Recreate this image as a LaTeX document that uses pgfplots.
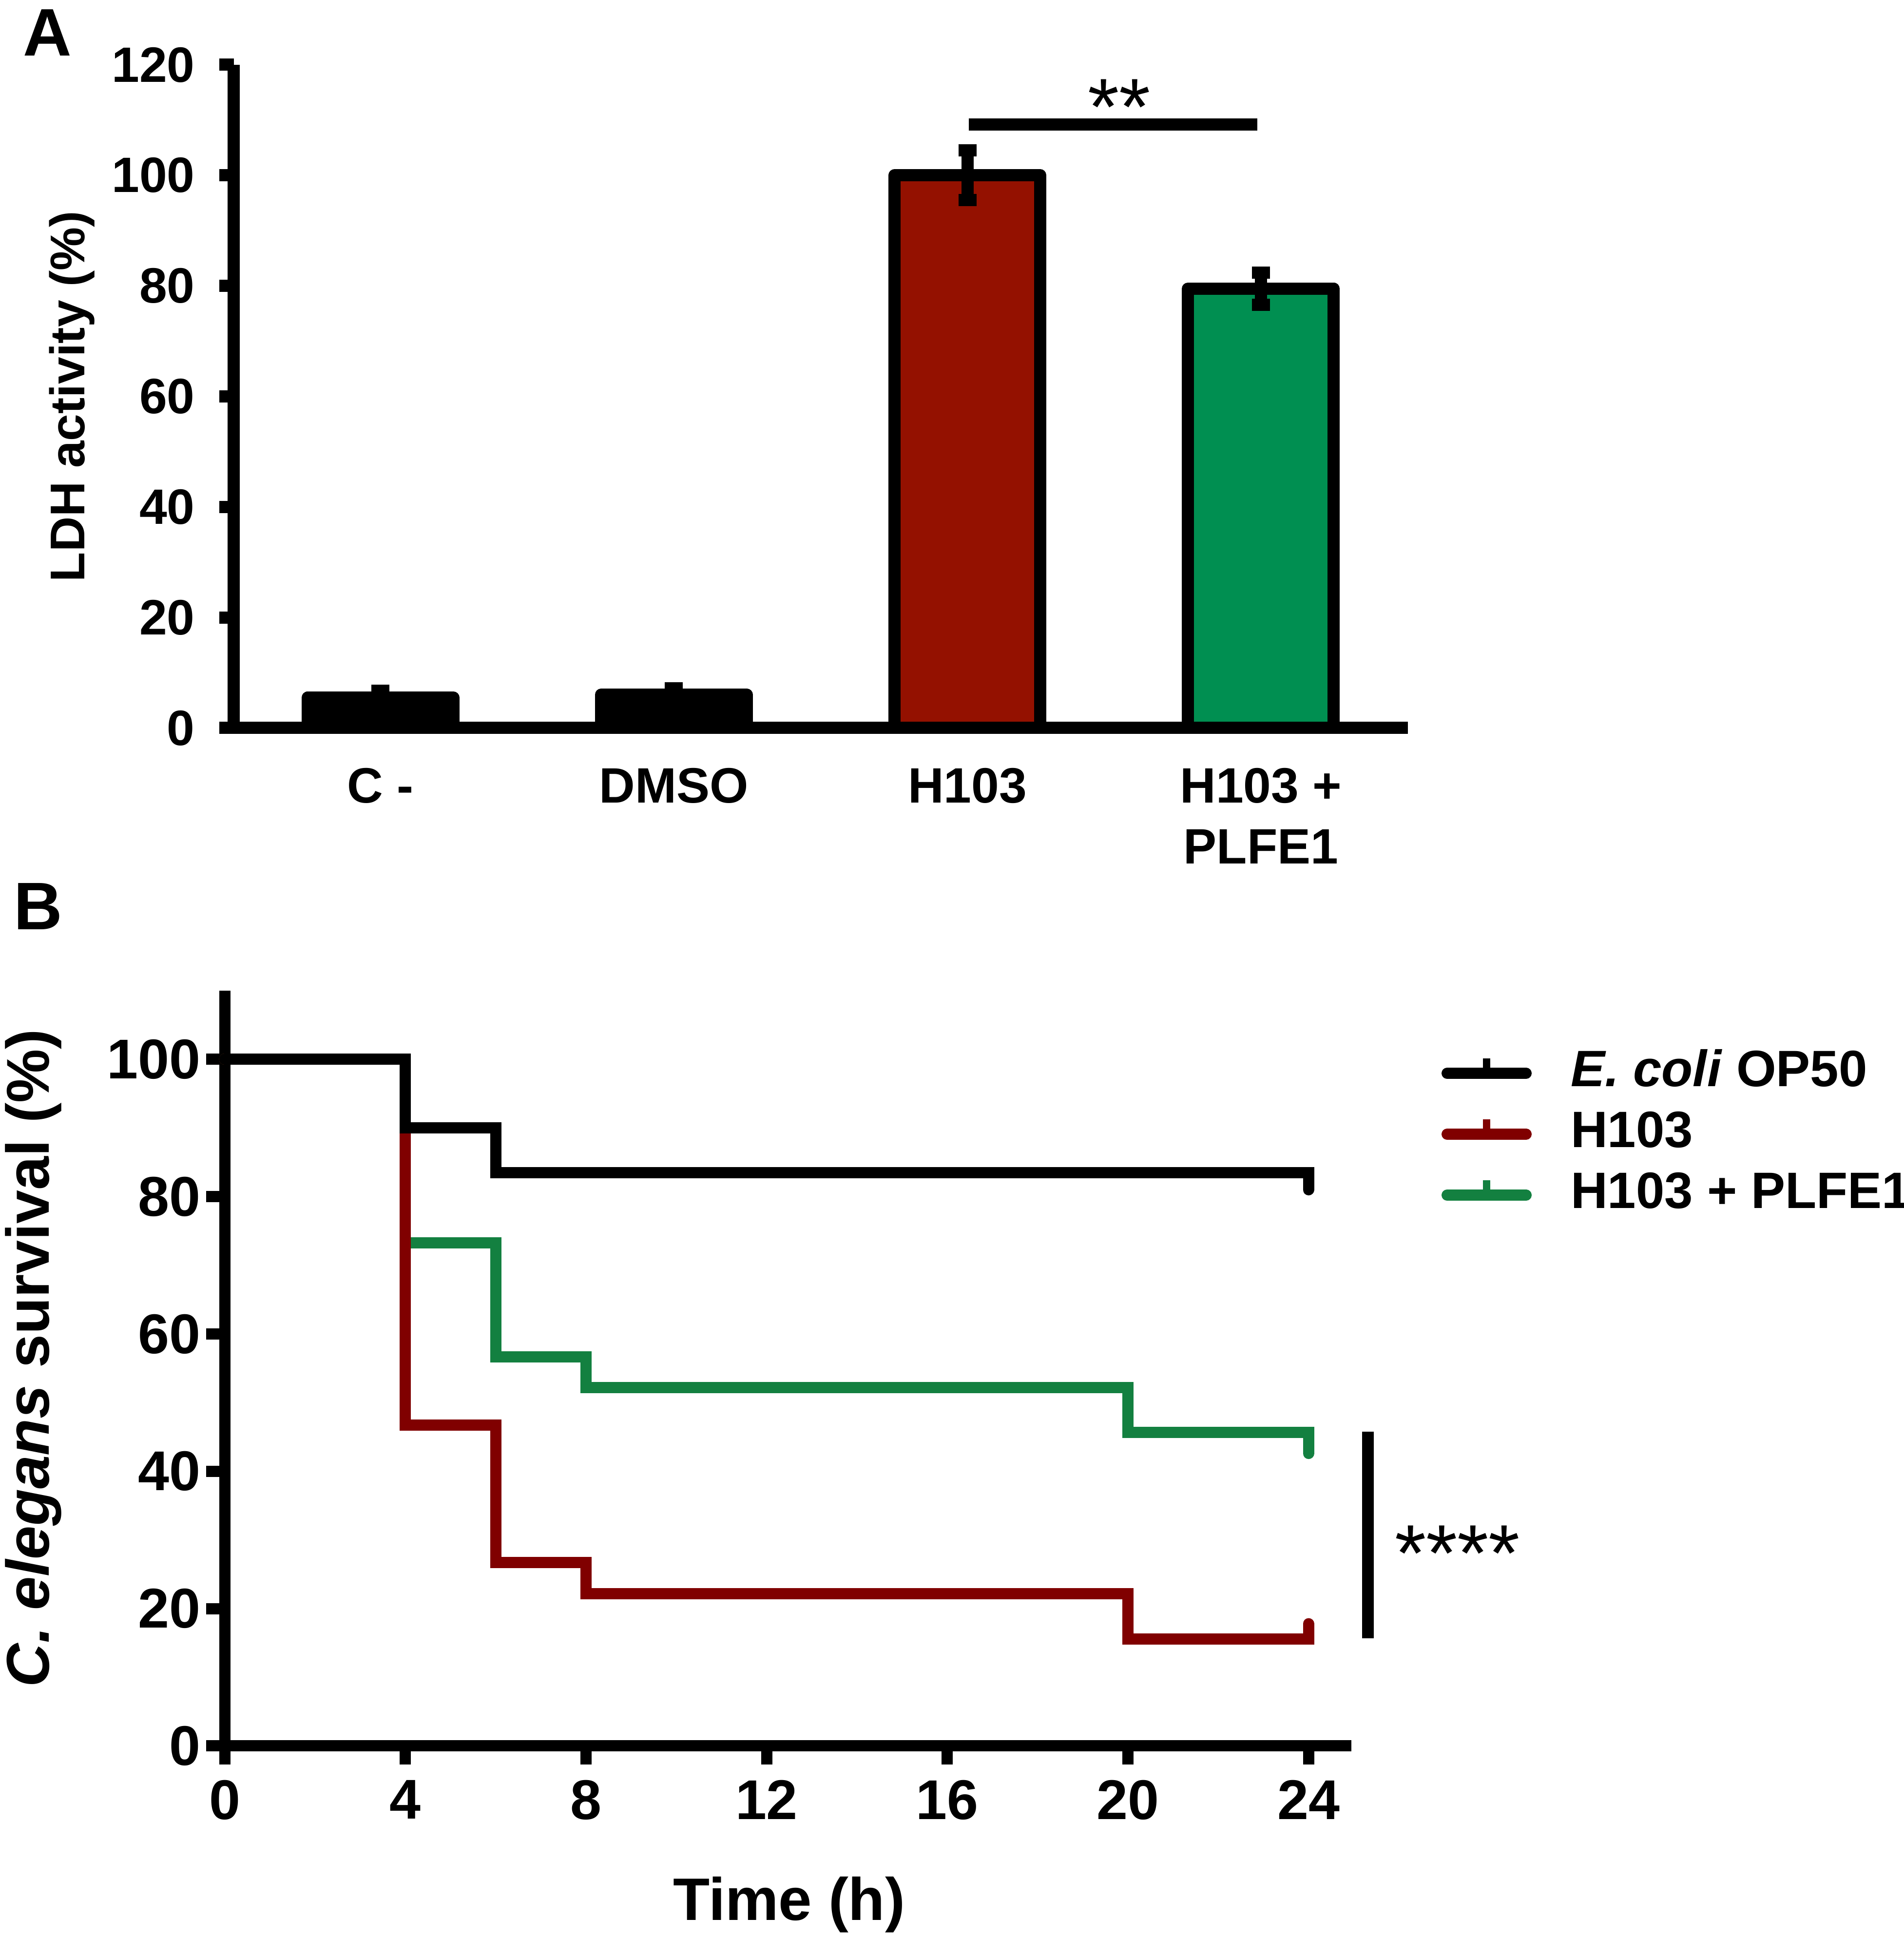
\documentclass[border=0pt]{standalone}
\usepackage{fontspec}
\setmainfont{Liberation Sans}
\usepackage{pgfplots}
\pgfplotsset{compat=1.18}
\definecolor{barred}{RGB}{148,17,0}
\definecolor{bargreen}{RGB}{0,143,81}
\definecolor{kmred}{RGB}{128,0,0}
\definecolor{kmgreen}{RGB}{19,128,64}
\pgfplotsset{
  errstyle/.style={error bars/.cd, y dir=both, y explicit,
    error bar style={line width=2.5pt, black},
    error mark options={rotate=90, black, line width=2.5pt, mark size=1.85pt}},
  kmleg/.style={legend image code/.code={
    \draw[line width=2.3pt, line cap=round] (0pt,0pt) -- (16.2pt,0pt);
    \draw[line width=1.5pt, line cap=butt] (8.1pt,0pt) -- (8.1pt,3pt);}},
  kmline/.style={line width=2.3pt, line join=miter, line cap=round, mark=none, forget plot},
}
\begin{document}
\begin{tikzpicture}
\useasboundingbox (0,0) rectangle (390.6pt,397.5pt);
\node[font=\fontsize{13.8}{16}\selectfont\bfseries, inner sep=0pt] at (9.7pt,390.8pt) {A};
\node[font=\fontsize{13.8}{16}\selectfont\bfseries, inner sep=0pt] at (7.85pt,211.5pt) {B};

\begin{axis}[
  at={(47.95pt,248.1pt)}, anchor=south west, scale only axis,
  width=240.9pt, height=136.1pt,
  xmin=-0.5, xmax=3.5, ymin=0, ymax=120,
  axis x line=bottom, axis y line=left,
  axis line style={-, line width=2.5pt, black},
  ytick={0,20,...,120}, xtick={0,1,2,3},
  xticklabels={C -, DMSO, H103, {H103 +\\PLFE1}},
  x tick style={draw=none}, y tick style={line width=2.5pt, black},
  tick align=outside, major tick length=3pt,
  /pgf/number format/assume math mode=true,
  ticklabel style={font=\fontsize{10.2}{12.5}\selectfont\bfseries},
  xticklabel style={align=center, anchor=north, inner sep=0pt, yshift=-5pt},
  yticklabel style={anchor=east, inner sep=0pt, xshift=-4.8pt},
  ylabel={LDH activity (\%)},
  ylabel style={font=\fontsize{10}{12}\selectfont\bfseries, at={(axis description cs:-0.1376,0.5)}, anchor=center},
  ybar, bar width=29.9pt, bar shift=0pt,
  clip=false,
]
\addplot[draw=black, fill=black, line width=2.5pt, line join=round, errstyle] coordinates {(0,5.5) +- (0,1.2)};
\addplot[draw=black, fill=black, line width=2.5pt, line join=round, errstyle] coordinates {(1,6.0) +- (0,1.2)};
\addplot[draw=black, fill=barred, line width=2.5pt, line join=round, errstyle] coordinates {(2,100) +- (0,4.5)};
\addplot[draw=black, fill=bargreen, line width=2.5pt, line join=round, errstyle] coordinates {(3,79.5) +- (0,2.9)};
\draw[line width=2.5pt] (axis cs:2.005,109.2) -- (axis cs:2.987,109.2);
\node[font=\fontsize{16.5}{18}\selectfont, anchor=base, inner sep=0pt] at (axis cs:2.517,107.3) {**};
\end{axis}

\begin{axis}[
  at={(46.1pt,39.2pt)}, anchor=south west, scale only axis,
  width=231.2pt, height=155pt,
  xmin=0, xmax=24.95, ymin=0, ymax=110,
  axis x line=bottom, axis y line=left,
  axis line style={-, line width=2.3pt, black},
  xtick={0,4,...,24}, ytick={0,20,...,100},
  tick style={line width=2.3pt, black},
  tick align=outside, major tick length=3.8pt,
  /pgf/number format/assume math mode=true,
  ticklabel style={font=\fontsize{11.5}{13}\selectfont\bfseries},
  xticklabel style={anchor=north, inner sep=0pt, yshift=-3pt},
  yticklabel style={anchor=east, inner sep=0pt, xshift=-1pt},
  xlabel={Time (h)},
  xlabel style={font=\fontsize{12.3}{14}\selectfont\bfseries, at={(axis description cs:0.5009,-0.2103)}, anchor=center},
  ylabel={\textit{C. elegans} survival (\%)},
  ylabel style={font=\fontsize{12.4}{14}\selectfont\bfseries, at={(axis description cs:-0.170,0.5135)}, anchor=center},
  clip=false,
  legend cell align=left,
  legend style={at={(axis description cs:1.080,0.9245)}, anchor=north west,
    draw=none, fill=none, inner sep=0pt, outer sep=0pt, row sep=2pt,
    font=\fontsize{10.5}{12}\selectfont\bfseries,
    nodes={inner sep=0pt, text height=8pt, text depth=2.5pt},
    /tikz/every odd column/.append style={column sep=8pt}},
]
\addplot[kmgreen, kmline] coordinates {(0,100)(4,100)(4,73.3)(6,73.3)(6,56.7)(8,56.7)(8,52.2)(20,52.2)(20,45.7)(24,45.7)(24,42.6)};
\addplot[kmred, kmline] coordinates {(0,100)(4,100)(4,46.7)(6,46.7)(6,26.7)(8,26.7)(8,22.2)(20,22.2)(20,15.6)(24,15.6)(24,17.8)};
\addplot[black, kmline] coordinates {(0,100)(4,100)(4,90)(6,90)(6,83.5)(24,83.5)(24,81)};
\addlegendimage{black, kmleg}
\addlegendentry{\textit{E. coli} OP50}
\addlegendimage{kmred, kmleg}
\addlegendentry{H103}
\addlegendimage{kmgreen, kmleg}
\addlegendentry{H103 + PLFE1}
\draw[line width=2.4pt] (axis cs:25.32,45.8) -- (axis cs:25.32,15.7);
\node[font=\fontsize{16.5}{18}\selectfont, anchor=base, inner sep=0pt] at (axis cs:27.3,24) {****};
\end{axis}
\end{tikzpicture}
\end{document}
